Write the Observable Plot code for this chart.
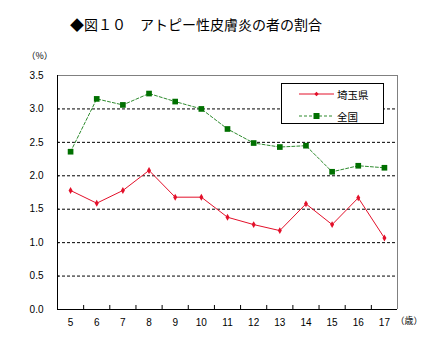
<!DOCTYPE html>
<html><head><meta charset="utf-8">
<script src="https://cdn.jsdelivr.net/npm/d3@7"></script>
<script src="https://cdn.jsdelivr.net/npm/@observablehq/plot@0.6"></script>
<style>
body{margin:0;background:#fff;width:442px;height:351px;position:relative;overflow:hidden;font-family:"Noto Sans CJK JP",sans-serif;}
#title{position:absolute;left:70px;top:15px;font-size:14px;line-height:18px;white-space:pre;color:#000;}
#chart{position:absolute;left:0;top:40px;}
#legend{position:absolute;left:281px;top:83px;width:101px;height:39px;border:1px solid #000;background:#fff;font-size:10.5px;}
.row{position:absolute;left:17px;height:12px;display:flex;align-items:center;}
.row span{margin-left:3px;}
</style></head>
<body>
<div id="title">◆図１０　アトピー性皮膚炎の者の割合</div>
<div id="chart"></div>
<div id="legend">
  <div class="row" style="top:4px"><svg width="35" height="12"><line x1="0" x2="35" y1="6" y2="6" stroke="#e3102a" stroke-width="1"/><path d="M17.5,3.8L19.7,6L17.5,8.2L15.3,6Z" fill="#e3102a"/></svg><span>埼玉県</span></div>
  <div class="row" style="top:26px"><svg width="35" height="12"><line x1="0" x2="35" y1="6" y2="6" stroke="#2e8b2e" stroke-width="1" stroke-dasharray="3,2"/><rect x="14.5" y="3" width="6" height="6" fill="#007000"/></svg><span>全国</span></div>
</div>
<script>
const ages = [5,6,7,8,9,10,11,12,13,14,15,16,17];
const saitama = [1.78,1.59,1.78,2.08,1.68,1.68,1.38,1.27,1.18,1.58,1.27,1.67,1.07];
const zenkoku = [2.36,3.15,3.06,3.23,3.11,3.00,2.70,2.49,2.43,2.45,2.06,2.15,2.12];
const yTicks = [0,0.5,1,1.5,2,2.5,3,3.5];
const gridValues = [0.5,1,1.5,2,2.5,3];
const bandEdges = [4.5,5.5,6.5,7.5,8.5,9.5,10.5,11.5,12.5,13.5,14.5,15.5,16.5,17.5];

const s1 = ages.map((a,i)=>({age:a, v:saitama[i]}));
const s2 = ages.map((a,i)=>({age:a, v:zenkoku[i]}));

const numFont = "Liberation Sans, Arial, sans-serif";

const chart = Plot.plot({
  width: 442, height: 311,
  marginLeft: 57, marginRight: 45, marginTop: 35, marginBottom: 42,
  style: {fontFamily: numFont, fontSize: "10px", color: "#000", background: "#fff"},
  x: {type: "linear", domain: [4.5, 17.5]},
  y: {domain: [0, 3.5]},
  marks: [
    Plot.ruleY(gridValues, {stroke: "#000", strokeDasharray: "3,2", strokeWidth: 1}),
    Plot.ruleY([3.5], {stroke: "#808080", strokeWidth: 1}),
    Plot.ruleX([17.5], {stroke: "#808080", strokeWidth: 1}),
    Plot.ruleX([4.5], {stroke: "#000", strokeWidth: 1}),
    Plot.ruleY([0], {stroke: "#000", strokeWidth: 1}),
    Plot.ruleX(bandEdges.slice(1, -1), {x: d => d, y1: 0, y2: 0.06, stroke: "#000"}),
    Plot.ruleY(yTicks.slice(1, -1), {y: d => d, x1: 4.5, x2: 4.57, stroke: "#000"}),
    Plot.axisX({ticks: ages, tickSize: 0, tickPadding: 9, tickFormat: d => String(d), label: null, fontFamily: numFont}),
    Plot.axisY({ticks: yTicks, tickSize: 0, tickPadding: 14, tickFormat: d => d.toFixed(1), label: null, fontFamily: numFont}),
    Plot.line(s2, {x: "age", y: "v", stroke: "#2e8b2e", strokeWidth: 1, strokeDasharray: "3,2"}),
    Plot.dot(s2, {x: "age", y: "v", symbol: "square", r: 3.2, fill: "#007000", stroke: "none"}),
    Plot.line(s1, {x: "age", y: "v", stroke: "#e3102a", strokeWidth: 1}),
    Plot.dot(s1, {x: "age", y: "v", symbol: "diamond", r: 2.1, fill: "#e3102a", stroke: "none"}),
    Plot.text(["（%）"], {frameAnchor: "top-left", dx: -31, dy: -23, fontFamily: "Noto Sans CJK JP", fontSize: 9}),
    Plot.text(["（歳）"], {frameAnchor: "bottom-right", dx: -2, dy: 14, textAnchor: "start", fontFamily: "Noto Sans CJK JP", fontSize: 9}),
  ]
});
document.getElementById("chart").appendChild(chart);
</script>
</body></html>
